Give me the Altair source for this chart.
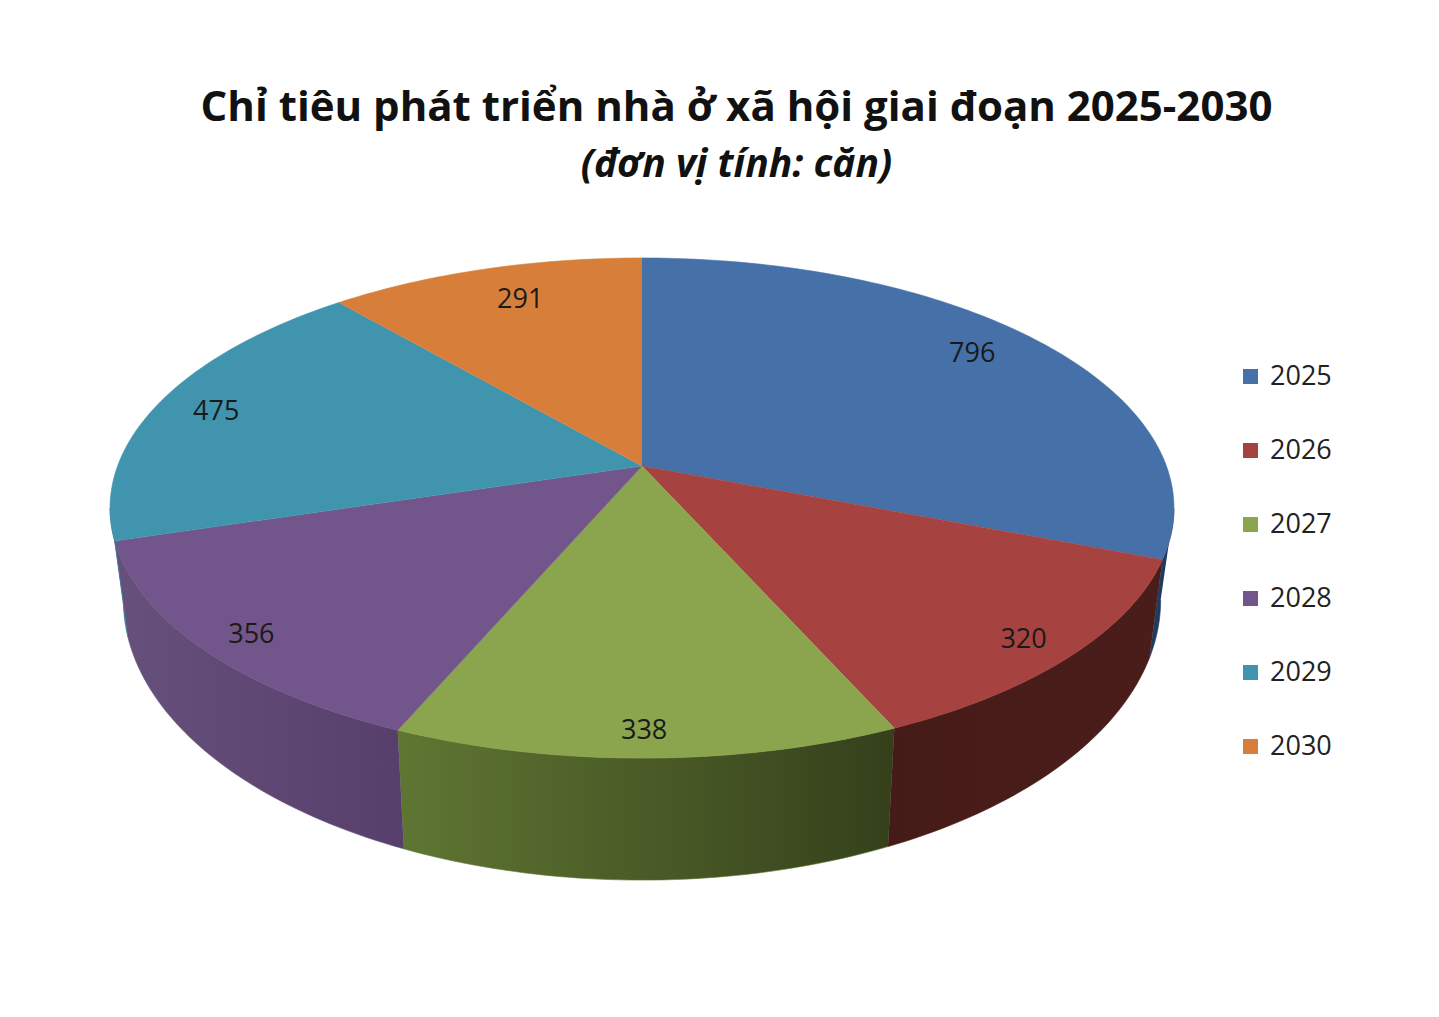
import math
import altair as alt
import pandas as pd

years = ["2025", "2026", "2027", "2028", "2029", "2030"]
values = [796, 320, 338, 356, 475, 291]
top_colors = ["#4570A8", "#A6423F", "#8AA54D", "#72558B", "#4094AE", "#D77F3A"]
wall_left = ["#1F3B5E", "#451B18", "#5F7633", "#66507C", "#2F7D95", "#9A5A28"]
wall_right = ["#1F3B5E", "#4A1D1A", "#35401B", "#573F6B", "#2F7D95", "#9A5A28"]

TITLE = "Chỉ tiêu phát triển nhà ở xã hội giai đoạn 2025-2030"
SUBTITLE = "(đơn vị tính: căn)"

# Layout of the tilted disc (page pixels), used by the projection below
CX, CY = 642, 466
A, B, P = 524.4, 243.0, 0.168
BOT_SX, BOT_SY, BOT_CY = 0.975, 1.12, 553
LABEL_R = [0.82, 0.90, 0.915, 0.90, 0.88, 0.83]
LABEL_NUDGE = [(1, -8), (0, 6), (-2, 2), (0, 6), (0, 3), (12, 1)]
W, H = 1423, 1000


def top(theta, r=1.0):
    u, v = r * math.sin(theta), r * math.cos(theta)
    d = 1 + P * v
    return CX + A * u / d, CY - B * v / d


def bottom(theta):
    x, y = top(theta)
    return CX + BOT_SX * (x - CX), BOT_CY + BOT_SY * (y - CY)


total = sum(values)
edges = [0.0]
for v in values:
    edges.append(edges[-1] + v / total * 2 * math.pi)

# Side wall is visible only on the near half, between the silhouette angles
sil_r = math.pi - math.asin(math.sqrt(1 - P * P))
sil_l = 2 * math.pi - sil_r

wedges, walls, labels = [], {}, []
for i, y in enumerate(years):
    a0, a1 = edges[i], edges[i + 1]
    n = max(2, int(math.degrees(a1 - a0)))
    rows = [(CX, CY)]
    for k in range(n + 1):
        rows.append(top(a0 + (a1 - a0) * k / n))
    for s, (px, py) in enumerate(rows):
        wedges.append({"year": y, "px": px, "py": py, "seq": s})

    b0, b1 = max(a0, sil_r), min(a1, sil_l)
    if b1 > b0:
        m = max(2, int(math.degrees(b1 - b0)))
        angs = [b0 + (b1 - b0) * k / m for k in range(m + 1)]
        poly = [top(t) for t in angs] + [bottom(t) for t in reversed(angs)]
        walls[i] = pd.DataFrame(
            [{"px": px, "py": py, "seq": s} for s, (px, py) in enumerate(poly)]
        )

    lx, ly = top((a0 + a1) / 2, LABEL_R[i])
    labels.append(
        {"year": y, "value": values[i], "px": lx + LABEL_NUDGE[i][0], "py": ly + LABEL_NUDGE[i][1]}
    )

x_enc = alt.X("px:Q", axis=None, scale=alt.Scale(domain=[8, 8 + W], nice=False, zero=False))
y_enc = alt.Y("py:Q", axis=None, scale=alt.Scale(domain=[8 + H, 8], nice=False, zero=False))

layers = []
for i, df in walls.items():
    grad = alt.Gradient(
        gradient="linear",
        x1=0, x2=1, y1=0, y2=0,
        stops=[
            alt.GradientStop(offset=0, color=wall_left[i]),
            alt.GradientStop(offset=1, color=wall_right[i]),
        ],
    )
    layers.append(
        alt.Chart(df)
        .mark_line(filled=True, fill=grad, stroke=wall_left[i], strokeWidth=0.6)
        .encode(x=x_enc, y=y_enc, order="seq:Q")
    )

color_scale = alt.Scale(domain=years, range=top_colors)
layers.append(
    alt.Chart(pd.DataFrame(wedges))
    .mark_line(filled=True, strokeWidth=0.6)
    .encode(
        x=x_enc,
        y=y_enc,
        order="seq:Q",
        color=alt.Color(
            "year:N",
            scale=color_scale,
            legend=alt.Legend(
                title=None,
                orient="none",
                legendX=1229,
                legendY=355,
                symbolType="square",
                symbolSize=225,
                symbolStrokeWidth=0,
                labelFont="Open Sans",
                labelFontSize=27,
                labelColor="#222222",
                labelOffset=6,
                rowPadding=46,
                labelLimit=120,
            ),
        ),
        stroke=alt.Stroke("year:N", scale=color_scale, legend=None),
    )
)
layers.append(
    alt.Chart(pd.DataFrame(labels))
    .mark_text(font="Open Sans", fontSize=27, color="#1A1A1A", baseline="middle", align="center")
    .encode(x=x_enc, y=y_enc, text="value:Q")
)

chart = (
    alt.layer(*layers)
    .properties(
        width=W,
        height=H,
        padding=0,
        autosize=alt.AutoSizeParams(type="none"),
        title=alt.Title(
            text=TITLE,
            subtitle=SUBTITLE,
            anchor="middle",
            dx=17,
            offset=-178,
            font="Open Sans",
            fontSize=42,
            fontWeight="bold",
            color="#111111",
            subtitleFont="Open Sans",
            subtitleFontSize=39,
            subtitleFontWeight="bold",
            subtitleFontStyle="italic",
            subtitleColor="#111111",
            subtitlePadding=16,
        ),
    )
    .configure_view(stroke=None)
)

chart.save("out.html", embed_options={"renderer": "svg", "actions": False})
